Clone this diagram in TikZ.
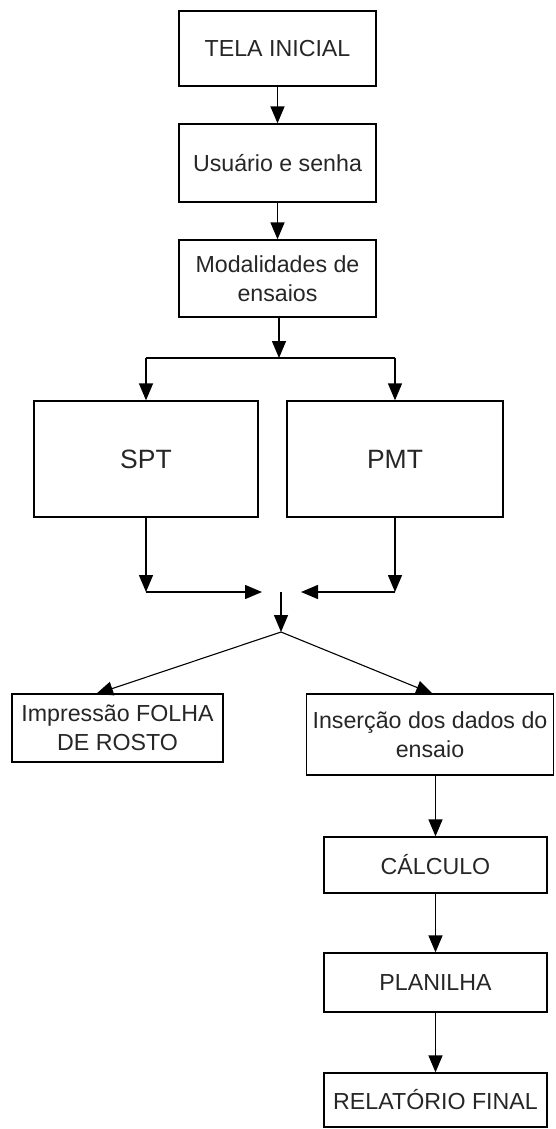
\documentclass[tikz,border=0pt]{standalone}
\usepackage{fontspec}
\setmainfont{Liberation Sans}
\usetikzlibrary{arrows.meta}
\definecolor{txt}{HTML}{262626}
\tikzset{
  box/.style={draw=black, line width=1.3pt, inner sep=0pt, align=center, text=txt,
    font=\fontsize{23.2}{29}\selectfont},
  bigbox/.style={box, font=\fontsize{26.5}{30}\selectfont},
  arr/.style={line width=1.4pt, -{Triangle[length=17pt,width=14pt]}},
  ln/.style={line width=1.4pt}
}
\begin{document}
\begin{tikzpicture}[x=1pt,y=-1pt]
\useasboundingbox (0,0) rectangle (556,1129);
\node[box, minimum width=197pt, minimum height=75pt] (tela) at (277.5,48.5) {TELA INICIAL};
\node[box, minimum width=197pt, minimum height=78pt] (user) at (277.5,163) {Usuário e senha};
\node[box, minimum width=197pt, minimum height=77pt] (mod) at (277.5,278.5) {Modalidades de\\ensaios};
\node[bigbox, minimum width=224pt, minimum height=116pt] (spt) at (146,459) {SPT};
\node[bigbox, minimum width=216pt, minimum height=116pt] (pmt) at (395,459) {PMT};
\node[box, minimum width=211pt, minimum height=68pt] (imp) at (117.5,728) {Impressão FOLHA\\DE ROSTO};
\node[box, minimum width=247pt, minimum height=81pt] (ins) at (430,734.5) {Inserção dos dados do\\ensaio};
\node[box, minimum width=223pt, minimum height=56pt] (calc) at (435.5,865) {CÁLCULO};
\node[box, minimum width=223pt, minimum height=59pt] (plan) at (435.5,982.5) {PLANILHA};
\node[box, minimum width=223pt, minimum height=54pt] (rel) at (435.5,1100) {RELATÓRIO FINAL};

% top chain
\draw[arr] (tela.south) -- (user.north);
\draw[arr] (user.south) -- (mod.north);

% split
\coordinate (split) at (279,358);
\coordinate (sl) at (146,358);
\coordinate (sr) at (395,358);
\draw[arr] (mod.south -| split) -- (split);
\draw[ln] (sl) -- (sr);
\draw[arr] (sl) -- (spt.north);
\draw[arr] (sr) -- (pmt.north);

% merge
\coordinate (cl) at (146,592);
\coordinate (cr) at (395,592);
\coordinate (ml) at (262,592);
\coordinate (mr) at (301,592);
\coordinate (mtop) at (281,592);
\coordinate (junc) at (281,632);
\draw[arr] (spt.south) -- (cl);
\draw[arr] (cl) -- (ml);
\draw[arr] (pmt.south) -- (cr);
\draw[arr] (cr) -- (mr);
\draw[arr] (mtop) -- (junc);

% branches
\coordinate (impt) at (96,694);
\coordinate (inst) at (433,694);
\draw[arr, line width=1.1pt] (junc) -- (impt);
\draw[arr, line width=1.1pt] (junc) -- (inst);

% lower chain
\draw[arr] (ins.south -| calc.north) -- (calc.north);
\draw[arr] (calc.south) -- (plan.north);
\draw[arr] (plan.south) -- (rel.north);
\end{tikzpicture}
\end{document}
